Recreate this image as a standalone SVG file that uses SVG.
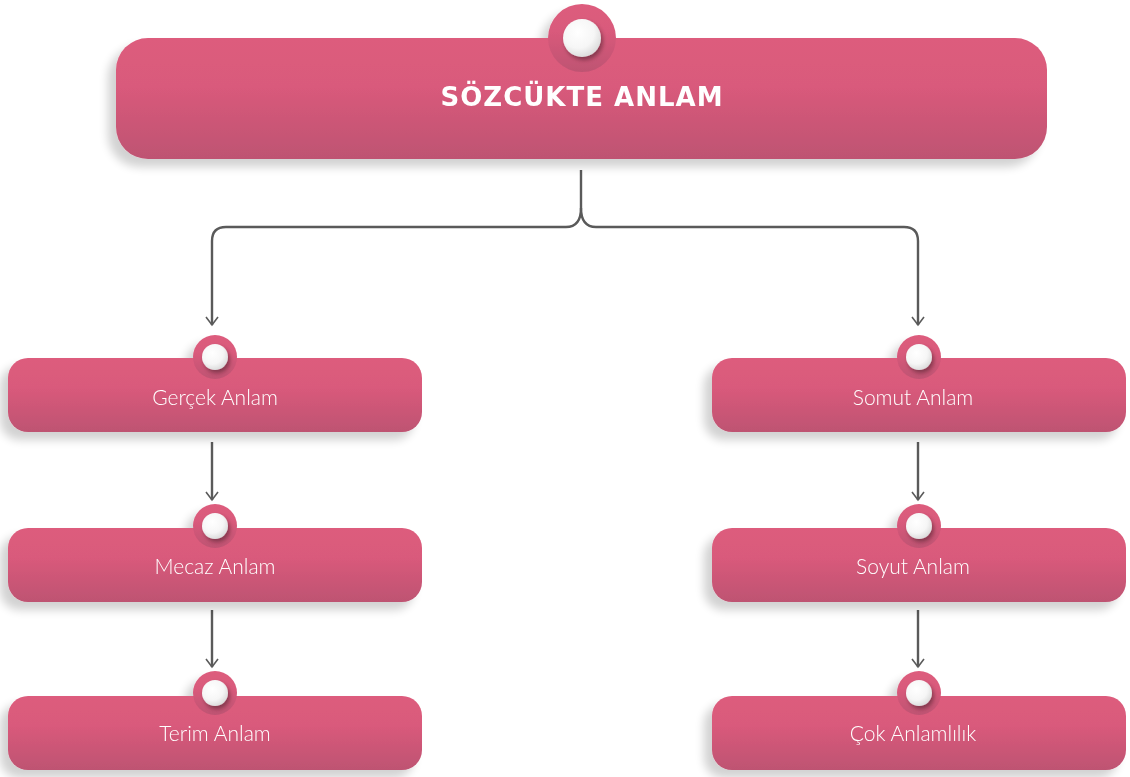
<svg xmlns="http://www.w3.org/2000/svg" width="1130" height="777" viewBox="0 0 1130 777">
<defs>
<linearGradient id="pink" x1="0" y1="0" x2="0" y2="1">
<stop offset="0" stop-color="#DD5C7D"/>
<stop offset="0.4" stop-color="#D95A7B"/>
<stop offset="1" stop-color="#BE5372"/>
</linearGradient>
<radialGradient id="pearl" cx="0.4" cy="0.35" r="0.7">
<stop offset="0" stop-color="#FFFFFF"/>
<stop offset="0.6" stop-color="#F6F6F6"/>
<stop offset="1" stop-color="#D8D8D8"/>
</radialGradient>
<filter id="sh" x="-10%" y="-30%" width="120%" height="170%">
<feGaussianBlur in="SourceAlpha" stdDeviation="5"/>
<feOffset dx="-8" dy="8" result="b"/>
<feComponentTransfer><feFuncA type="linear" slope="0.18"/></feComponentTransfer>
<feMerge><feMergeNode/><feMergeNode in="SourceGraphic"/></feMerge>
</filter>
<filter id="ksh" x="-50%" y="-50%" width="200%" height="200%">
<feDropShadow dx="2" dy="3" stdDeviation="2" flood-color="#000" flood-opacity="0.35"/>
</filter>
<marker id="arr" markerWidth="14" markerHeight="14" refX="12" refY="7" orient="auto" markerUnits="userSpaceOnUse" viewBox="0 0 14 14">
<path d="M4,1 L12,7 L4,13" fill="none" stroke="#5a5a5a" stroke-width="1.6"/>
</marker>
</defs>
<style>
.box{fill:url(#pink)}
.lbl{font-family:"Lato","Open Sans","Liberation Sans",sans-serif;font-size:21px;fill:#fff;text-anchor:middle;font-weight:300}
.title{font-family:"DejaVu Sans","Liberation Sans",sans-serif;font-size:26px;font-weight:bold;fill:#fff;text-anchor:middle;letter-spacing:1px}
.con{fill:none;stroke:#5a5a5a;stroke-width:2.4}
.pearl{fill:url(#pearl)}
</style>
<rect width="1130" height="777" fill="#fff"/>

<g id="connectors">
<path class="con" d="M581,170 V208 Q581,227 566,227 H226 Q212,227 212,241 V325" marker-end="url(#arr)"/>
<path class="con" d="M581,208 Q581,227 596,227 H904 Q918,227 918,241 V325" marker-end="url(#arr)"/>
<path class="con" d="M212,442 V500" marker-end="url(#arr)"/>
<path class="con" d="M212,610 V667" marker-end="url(#arr)"/>
<path class="con" d="M918,442 V500" marker-end="url(#arr)"/>
<path class="con" d="M918,610 V667" marker-end="url(#arr)"/>
</g>

<g id="n-root" filter="url(#sh)">
<rect class="box" x="116" y="38" width="931" height="121" rx="32"/>
<circle class="box" cx="582" cy="38" r="34"/>
<circle class="pearl" cx="582" cy="38" r="19" filter="url(#ksh)"/>
<text class="title" x="582" y="106">SÖZCÜKTE ANLAM</text>
</g>

<g id="n-gercek" filter="url(#sh)">
<rect class="box" x="8" y="358" width="414" height="74" rx="20"/>
<circle class="box" cx="215" cy="357" r="22"/>
<circle class="pearl" cx="215" cy="357" r="13" filter="url(#ksh)"/>
<text class="lbl" x="215" y="405">Gerçek Anlam</text>
</g>

<g id="n-mecaz" filter="url(#sh)">
<rect class="box" x="8" y="528" width="414" height="74" rx="20"/>
<circle class="box" cx="215" cy="526" r="22"/>
<circle class="pearl" cx="215" cy="526" r="13" filter="url(#ksh)"/>
<text class="lbl" x="215" y="574">Mecaz Anlam</text>
</g>

<g id="n-terim" filter="url(#sh)">
<rect class="box" x="8" y="696" width="414" height="74" rx="20"/>
<circle class="box" cx="215" cy="693" r="22"/>
<circle class="pearl" cx="215" cy="693" r="13" filter="url(#ksh)"/>
<text class="lbl" x="215" y="741">Terim Anlam</text>
</g>

<g id="n-somut" filter="url(#sh)">
<rect class="box" x="712" y="358" width="414" height="74" rx="20"/>
<circle class="box" cx="919" cy="357" r="22"/>
<circle class="pearl" cx="919" cy="357" r="13" filter="url(#ksh)"/>
<text class="lbl" x="913" y="405">Somut Anlam</text>
</g>

<g id="n-soyut" filter="url(#sh)">
<rect class="box" x="712" y="528" width="414" height="74" rx="20"/>
<circle class="box" cx="919" cy="526" r="22"/>
<circle class="pearl" cx="919" cy="526" r="13" filter="url(#ksh)"/>
<text class="lbl" x="913" y="574">Soyut Anlam</text>
</g>

<g id="n-cok" filter="url(#sh)">
<rect class="box" x="712" y="696" width="414" height="74" rx="20"/>
<circle class="box" cx="919" cy="693" r="22"/>
<circle class="pearl" cx="919" cy="693" r="13" filter="url(#ksh)"/>
<text class="lbl" x="913" y="741">Çok Anlamlılık</text>
</g>
</svg>
